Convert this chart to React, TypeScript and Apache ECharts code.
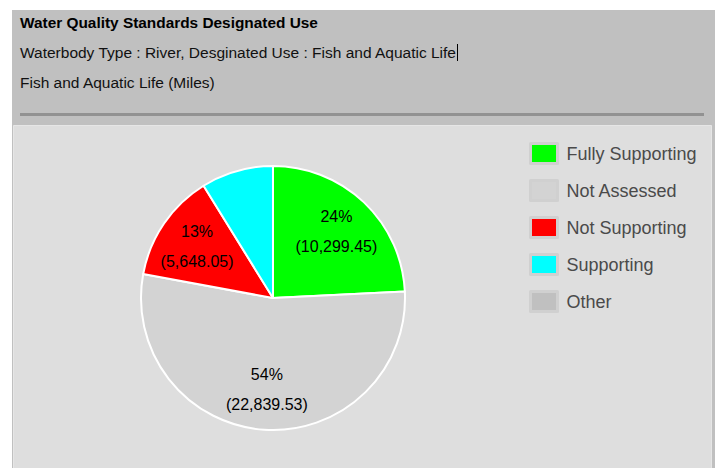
import React, { useEffect, useRef } from "react";
import * as echarts from "echarts";

const categories = ["Fully Supporting", "Not Assessed", "Not Supporting", "Supporting", "Other"];
const values = [10299.45, 22839.53, 5648.05, 3750, 0];
const sliceColors = ["#00ff00", "#d3d3d3", "#ff0000", "#00ffff", "#c0c0c0"];
const headerTitle = "Water Quality Standards Designated Use";
const headerSubtitle = "Waterbody Type : River, Desginated Use : Fish and Aquatic Life";
const chartTitle = "Fish and Aquatic Life (Miles)";

const FONT = "'Liberation Sans', Arial, sans-serif";

function fmt(v: number) {
  return v.toLocaleString("en-US", { minimumFractionDigits: 2, maximumFractionDigits: 2 });
}

export default function App() {
  const ref = useRef<HTMLDivElement>(null);
  useEffect(() => {
    if (!ref.current) return;
    const chart = echarts.init(ref.current, undefined, { renderer: "svg" });
    const data = categories.map((name, i) => ({
      name,
      value: values[i],
      itemStyle: { color: sliceColors[i] },
    }));
    const R = 132;
    chart.setOption({
      animation: false,
      textStyle: { fontFamily: FONT },
      graphic: [
        { type: "rect", z: -10, shape: { x: 12, y: 10, width: 703, height: 458 }, style: { fill: "#c0c0c0" } },
        {
          type: "rect",
          z: -9,
          shape: { x: 13.5, y: 125.5, width: 698, height: 350 },
          style: { fill: "#dedede", stroke: "#e6e6e6", lineWidth: 1 },
        },
        { type: "rect", z: -8, shape: { x: 20, y: 113, width: 684, height: 3 }, style: { fill: "#929292" } },
        {
          type: "text",
          z: -7,
          x: 20,
          y: 22,
          style: { text: headerTitle, font: `bold 15.4px ${FONT}`, fill: "#000", verticalAlign: "middle" },
        },
        {
          type: "text",
          z: -7,
          x: 20,
          y: 52,
          style: { text: headerSubtitle, font: `15.5px ${FONT}`, fill: "#111", verticalAlign: "middle" },
        },
        {
          type: "line",
          z: -7,
          shape: { x1: 457.5, y1: 44, x2: 457.5, y2: 61 },
          style: { stroke: "#000", lineWidth: 1 },
        },
        {
          type: "text",
          z: -7,
          x: 20,
          y: 82,
          style: { text: chartTitle, font: `15.5px ${FONT}`, fill: "#111", verticalAlign: "middle" },
        },
      ],
      legend: {
        orient: "vertical",
        left: 529,
        top: 142,
        padding: 0,
        icon: "rect",
        itemWidth: 27,
        itemHeight: 20,
        itemGap: 14,
        selectedMode: false,
        itemStyle: { borderColor: "#d0d0d0", borderWidth: 3 },
        textStyle: { fontSize: 18, color: "#4a4a4a", fontFamily: FONT, padding: [0, 0, 0, 4], lineHeight: 17 },
        data: categories.map((name, i) => ({
          name,
          itemStyle: { color: sliceColors[i], borderColor: "#d0d0d0", borderWidth: 3 },
        })),
      },
      series: [
        {
          type: "pie",
          center: [273, 298],
          radius: [0, R],
          startAngle: 90,
          clockwise: true,
          stillShowZeroSum: true,
          avoidLabelOverlap: false,
          silent: true,
          label: { show: false },
          labelLine: { show: false },
          emphasis: { disabled: true },
          itemStyle: { borderColor: "#ffffff", borderWidth: 2 },
          data,
        },
        {
          type: "pie",
          center: [273, 298],
          radius: [46, R],
          startAngle: 90,
          clockwise: true,
          avoidLabelOverlap: false,
          silent: true,
          emphasis: { disabled: true },
          itemStyle: { color: "rgba(0,0,0,0)", borderWidth: 0 },
          labelLine: { show: false },
          label: {
            show: true,
            position: "inside",
            fontSize: 16,
            lineHeight: 30,
            color: "#000",
            fontFamily: FONT,
            formatter: (p: any) => (p.percent < 10 ? "" : `${Math.round(p.percent)}%\n(${fmt(p.value)})`),
          },
          data: categories.map((name, i) => ({ name, value: values[i], itemStyle: { color: "rgba(0,0,0,0)" } })),
        },
      ],
    });
    return () => chart.dispose();
  }, []);
  return (
    <div
      ref={ref}
      style={{ position: "absolute", left: 0, top: 0, width: 715, height: 468, background: "#ffffff" }}
    />
  );
}
